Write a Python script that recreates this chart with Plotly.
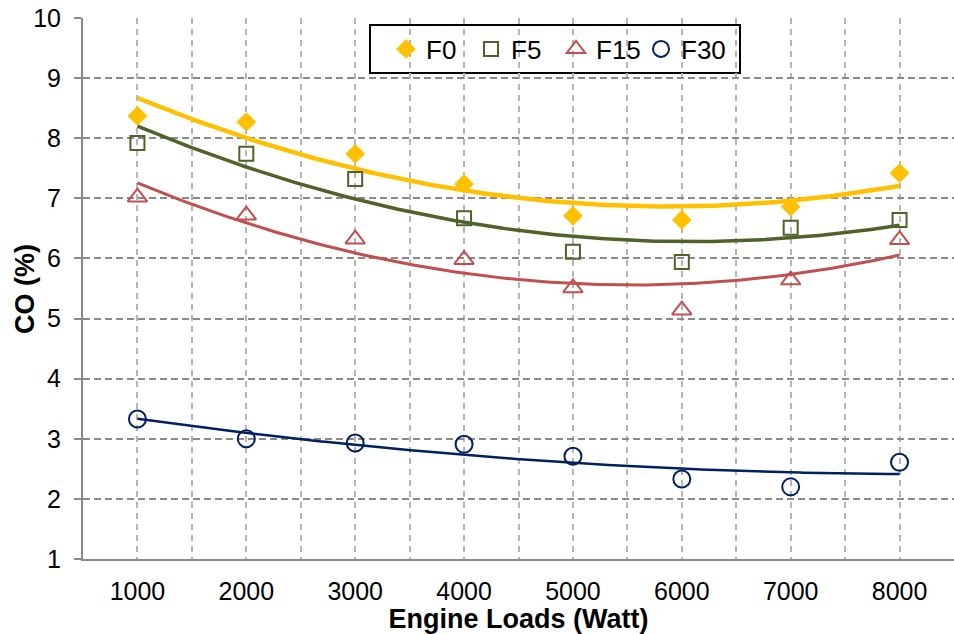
import numpy as np
import plotly.graph_objects as go

loads = [1000, 2000, 3000, 4000, 5000, 6000, 7000, 8000]
f0 = [8.37, 8.27, 7.74, 7.24, 6.71, 6.64, 6.86, 7.42]
f5 = [7.92, 7.74, 7.32, 6.67, 6.11, 5.94, 6.51, 6.64]
f15 = [7.02, 6.72, 6.32, 5.98, 5.51, 5.14, 5.64, 6.31]
f30 = [3.33, 3.00, 2.93, 2.91, 2.71, 2.33, 2.20, 2.61]

series = [
    ("F0", f0, "#FFC000", "diamond", 13, 4.5),
    ("F5", f5, "#4F6228", "square-open", 14, 3.5),
    ("F15", f15, "#C0504D", "triangle-up-open", 17, 3),
    ("F30", f30, "#002060", "circle-open", 17, 2.5),
]

fig = go.Figure()
xs = np.linspace(min(loads), max(loads), 200)
for name, vals, color, sym, size, lw in series:
    coef = np.polyfit(loads, vals, 2)
    fig.add_trace(go.Scatter(x=xs, y=np.polyval(coef, xs), mode="lines",
                             line=dict(color=color, width=lw), showlegend=False,
                             hoverinfo="skip"))
for name, vals, color, sym, size, lw in series:
    fig.add_trace(go.Scatter(x=loads, y=vals, mode="markers", name=name,
                             marker=dict(symbol=sym, size=size, color=color,
                                         line=dict(color=color, width=2))))

L, R, T, B = 83, 0, 18, 75
W, H = 954, 634
pw, ph = W - L - R, H - T - B

def px(x):
    return (x - L) / pw

def py(y):
    return (H - B - y) / ph

fig.add_shape(type="rect", xref="paper", yref="paper",
              x0=px(370), x1=px(740), y0=py(73), y1=py(25),
              line=dict(color="black", width=2), fillcolor="white", layer="below")

fig.add_annotation(text="<b>CO (%)</b>", xref="paper", yref="paper",
                   x=px(25), y=py(289), xanchor="center", yanchor="middle",
                   textangle=-90, showarrow=False, font=dict(size=27))

fig.update_layout(
    width=W, height=H,
    margin=dict(l=L, r=R, t=T, b=B, autoexpand=False),
    paper_bgcolor="white", plot_bgcolor="white",
    font=dict(family="Liberation Sans, Arial, sans-serif", color="black", size=25),
    legend=dict(orientation="h", x=px(386), y=py(49), xanchor="left", yanchor="middle",
                borderwidth=0, font=dict(size=26), itemwidth=30, entrywidth=40,
                tracegroupgap=0, bgcolor="rgba(0,0,0,0)", valign="middle"),
    showlegend=True,
)
fig.update_xaxes(
    range=[500, 8500], tick0=1000, dtick=1000, showline=True, linecolor="#898989",
    linewidth=2, showgrid=True, gridcolor="#b5b5b5", griddash="6px,5px", gridwidth=1.5,
    minor=dict(tick0=500, dtick=500, showgrid=True, gridcolor="#b5b5b5",
               griddash="6px,5px", gridwidth=1.5),
    zeroline=False, ticks="", ticklabelstandoff=9, automargin=False,
    title=dict(text="<b>Engine Loads (Watt)</b>", font=dict(size=27), standoff=0),
)
fig.update_yaxes(
    range=[1, 10], dtick=1, showline=True, linecolor="#898989", linewidth=2,
    showgrid=True, gridcolor="#8a8a8a", griddash="7px,4px", gridwidth=1.5,
    zeroline=False, ticks="outside", ticklen=7, tickcolor="#898989", tickwidth=2,
    ticklabelstandoff=8, automargin=False,
)
fig.write_html("out.html", post_script="document.body.style.margin='0px';",
               config={"displayModeBar": False})
